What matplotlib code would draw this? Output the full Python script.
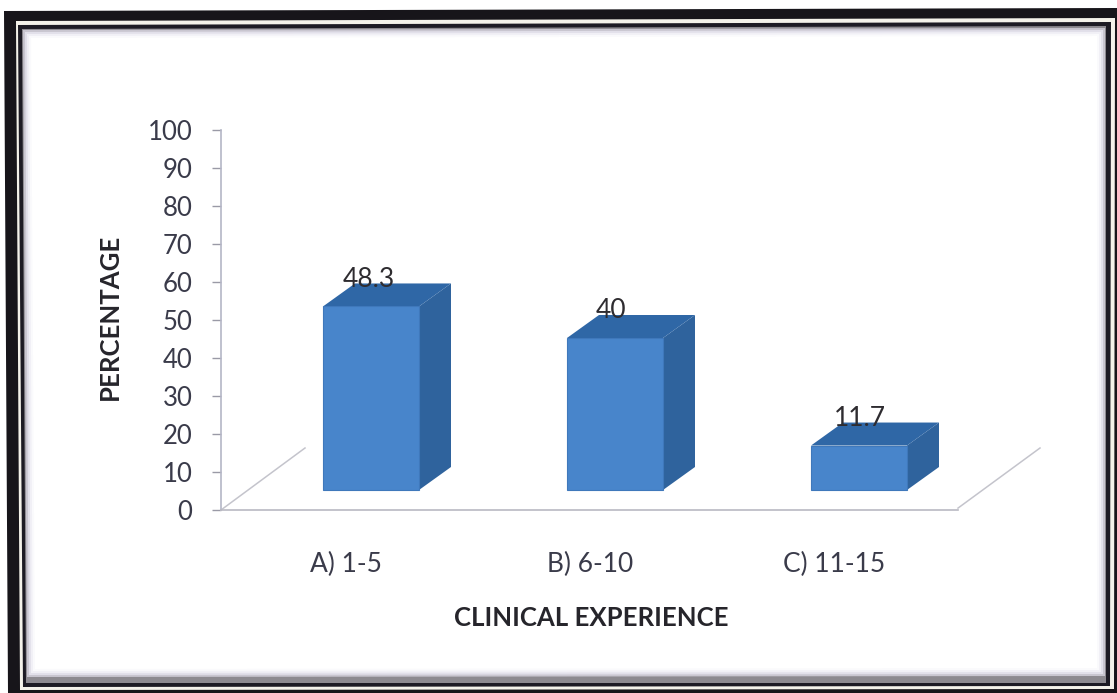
import matplotlib
matplotlib.use("Agg")
import matplotlib.pyplot as plt
from matplotlib.patches import Polygon
from matplotlib.transforms import offset_copy

categories = ["A) 1-5", "B) 6-10", "C) 11-15"]
percentages = [48.3, 40, 11.7]
y_ticks = [0, 10, 20, 30, 40, 50, 60, 70, 80, 90, 100]

W, H = 1117, 693
plt.rcParams["font.family"] = ["Lato", "DejaVu Sans"]

fig = plt.figure(figsize=(W / 100, H / 100), dpi=100, facecolor="white")

# Double picture frame, drawn in pixel space on a full-figure layer
frame = fig.add_axes([0, 0, 1, 1], zorder=0)
frame.set_xlim(0, W)
frame.set_ylim(H, 0)
frame.axis("off")
outer = [(4, 11), (1117, 8), (1117, 693), (8, 693)]
frame.add_patch(Polygon(outer, closed=True, fc="#17151a", ec="none"))
frame.add_patch(Polygon([(16, 21), (1115, 18), (1114, 689), (20, 690)],
                        closed=True, fc="#f4f2ea", ec="none"))
frame.add_patch(Polygon([(18, 25), (1111, 22), (1110, 686), (23, 687)],
                        closed=True, fc="#1d1b24", ec="none"))
frame.add_patch(Polygon([(22, 29), (1106, 26), (1106, 683), (26, 683)],
                        closed=True, fc="#8d8a90", ec="none"))
# Soft shading along the inside of the frame
for inset, shade in [(0, "#c9c6d0"), (2, "#e2e0ea"), (4, "#f1f0f6"), (6, "#fafafc"), (8, "#ffffff")]:
    frame.add_patch(Polygon([(23 + inset, 30 + inset), (1105 - inset, 28 + inset),
                             (1105 - inset, 676 - inset), (27 + inset, 677 - inset)],
                            closed=True, fc=shade, ec="none"))

# Chart area: floor line runs along y = 0, the axis spans 0-100
ax_l, ax_r, ax_b, ax_t = 221, 958, 510, 130
ax = fig.add_axes([ax_l / W, 1 - ax_b / H, (ax_r - ax_l) / W, (ax_b - ax_t) / H], zorder=1)
ax.patch.set_alpha(0)
ax.set_xlim(ax_l, ax_r)
ax.set_ylim(0, 100)
px = (ax_b - ax_t) / 100  # pixels per percentage point

for side in ("top", "right"):
    ax.spines[side].set_visible(False)
ax.spines["left"].set_color("#b4b6c6")
ax.spines["left"].set_linewidth(1.2)
ax.spines["bottom"].set_color("#b9b9c2")
ax.spines["bottom"].set_linewidth(1.2)
ax.set_yticks(y_ticks)
ax.tick_params(axis="y", length=6.5, width=1, color="#9a9aa6", pad=14,
               labelsize=18.5, labelcolor="#3a3b4a")

# Receding floor edges on both sides of the plot
floor_dx, floor_dy = 84, 62 / px
ax.plot([ax_l, ax_l + floor_dx], [0, floor_dy], color="#c4c4cc", lw=1.1, clip_on=False)
ax.plot([ax_r, ax_r + floor_dx - 2], [0.5, floor_dy], color="#c4c4cc", lw=1.1, clip_on=False)

# 3D-looking columns: front face, top face, side face
bar_w = 96
depth_x, depth_y = 32, 23 / px
base = 20 / px
slot = 244
first_bar_left = 323
label_shift_x = [-2, -4, 1]

for i, (name, val) in enumerate(zip(categories, percentages)):
    x0 = first_bar_left + i * slot
    x1 = x0 + bar_w
    y0, y1 = base, base + val
    ax.add_patch(Polygon([(x1, y0), (x1 + depth_x, y0 + depth_y),
                          (x1 + depth_x, y1 + depth_y), (x1, y1)],
                         closed=True, fc="#2f639d", ec="none", zorder=3))
    ax.add_patch(Polygon([(x0, y1), (x0 + depth_x, y1 + depth_y),
                          (x1 + depth_x, y1 + depth_y), (x1, y1)],
                         closed=True, fc="#2f67a6", ec="none", zorder=3))
    ax.add_patch(Polygon([(x0, y0), (x1, y0), (x1, y1), (x0, y1)],
                         closed=True, fc="#4885cb", ec="#3f78bb", lw=0.8, zorder=4))
    ax.annotate(f"{val:g}", xy=((x0 + x1) / 2, y1),
                xytext=(label_shift_x[i] * 0.72, 27 * 0.72), textcoords="offset points",
                ha="center", va="center", fontsize=19, color="#2e2c30", zorder=5)

# Category labels sit centred in each slot of the floor
ax.set_xticks([ax_l + slot * (i + 0.5) + 3 for i in range(len(categories))])
ax.set_xticklabels(categories)
ax.tick_params(axis="x", length=0, pad=30, labelsize=19, labelcolor="#3a3b4a")

fig.text(110 / W, 1 - 317 / H, "PERCENTAGE", rotation=90, ha="center", va="center",
         fontsize=18.5, fontweight="bold", color="#26252b", zorder=5)
fig.text(591 / W, 1 - 618 / H, "CLINICAL EXPERIENCE", ha="center", va="center",
         fontsize=18.5, fontweight="bold", color="#26252b", zorder=5)

fig.savefig("out.png", dpi=100, facecolor="white")
